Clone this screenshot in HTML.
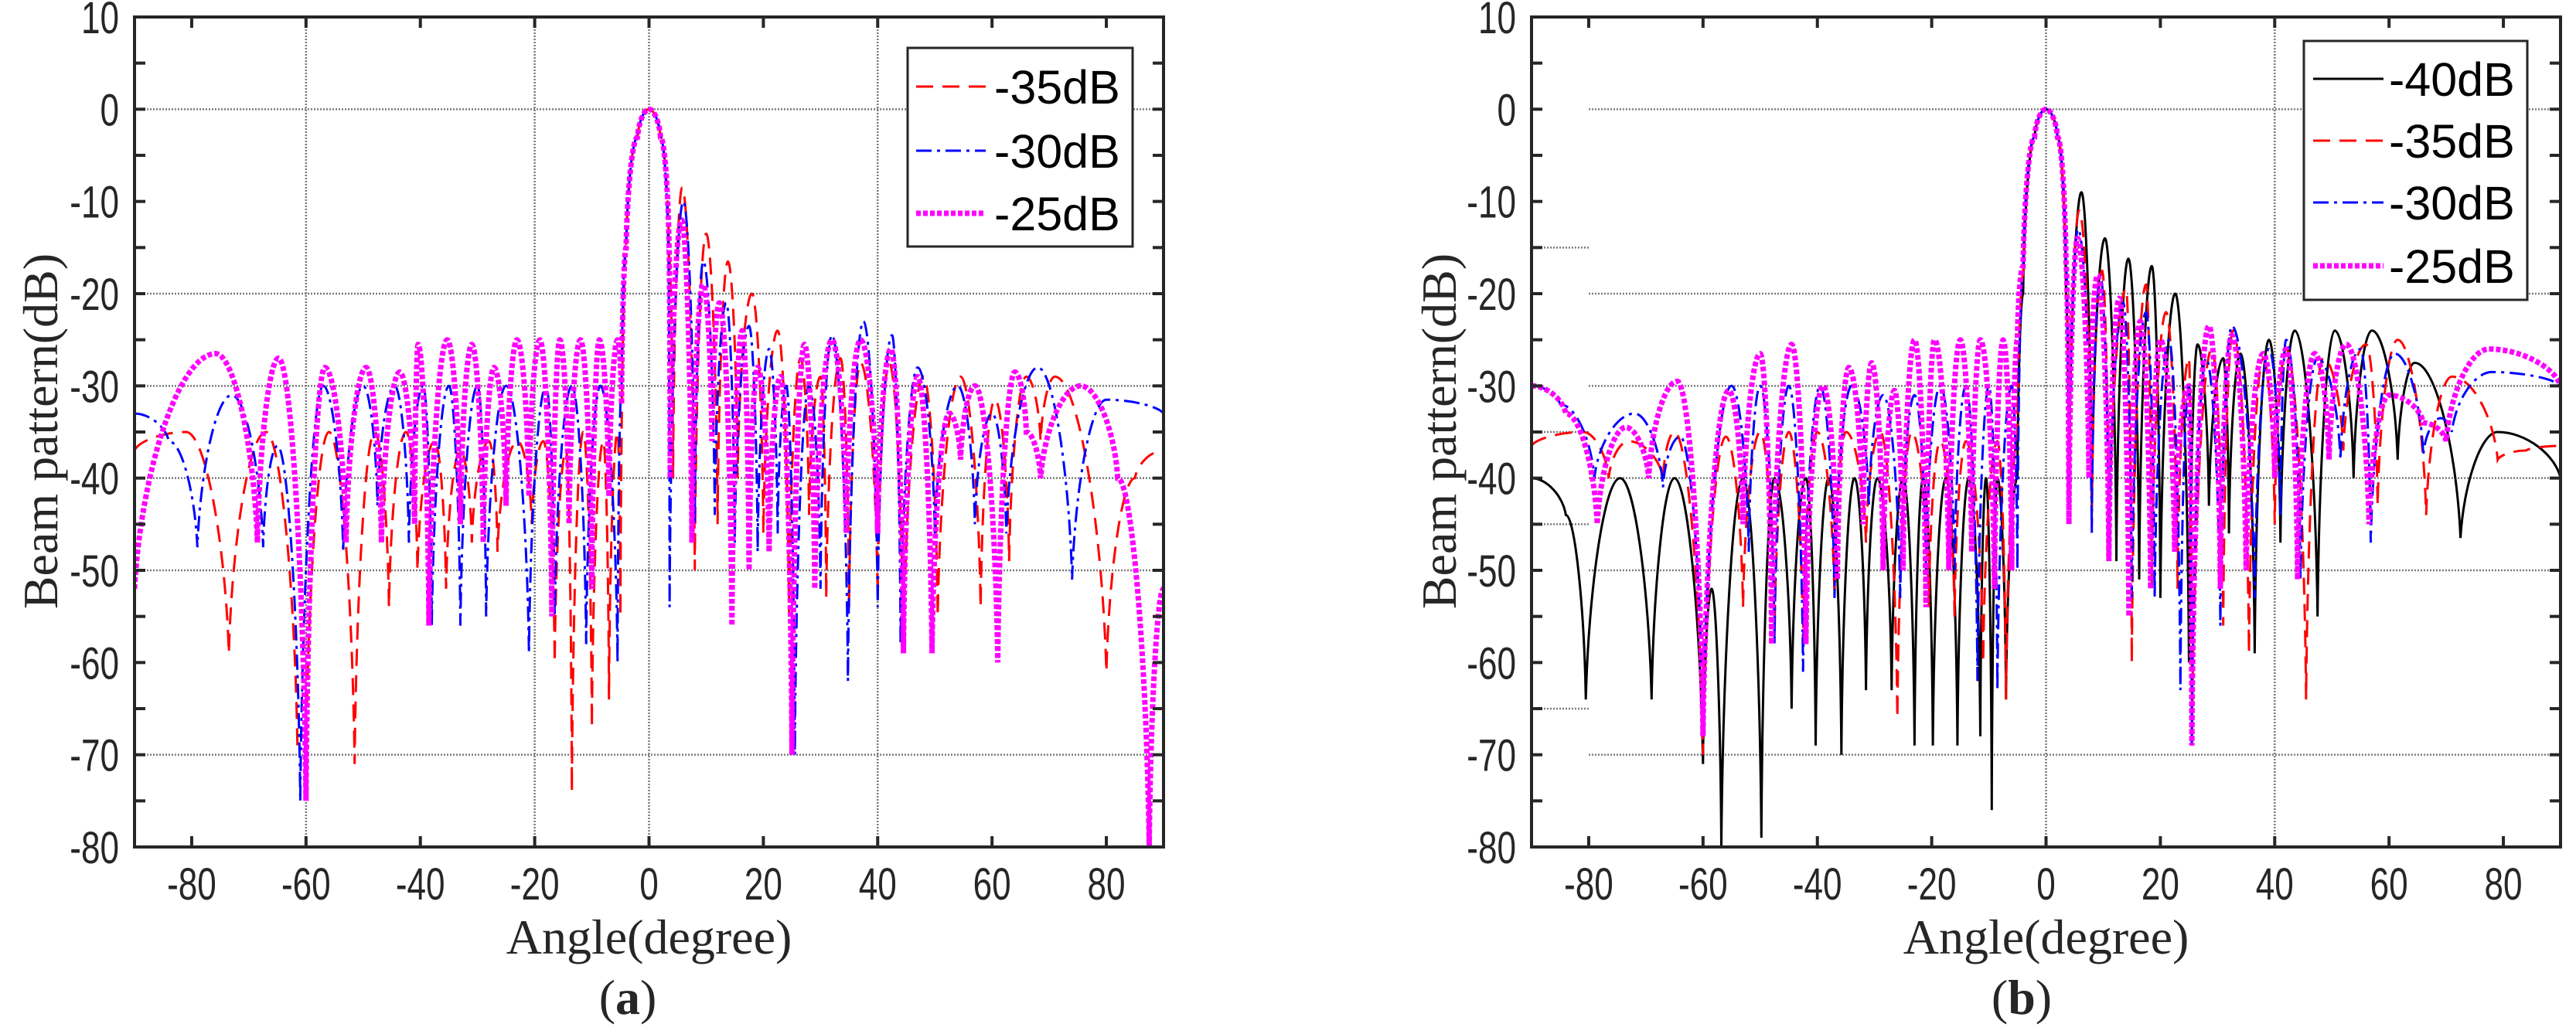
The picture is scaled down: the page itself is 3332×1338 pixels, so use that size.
<!DOCTYPE html>
<html><head><meta charset="utf-8">
<style>
html,body{margin:0;padding:0;background:#fff;}
svg{display:block;}
.tk{font-family:"Liberation Sans",sans-serif;font-size:58px;fill:#262626;}
.ttl{font-family:"Liberation Serif",serif;font-size:64px;fill:#262626;}
.lg{font-family:"Liberation Sans",sans-serif;font-size:61px;fill:#000;}
</style></head>
<body>
<svg id="fig" width="3332" height="1338" viewBox="0 0 3332 1338" xmlns="http://www.w3.org/2000/svg">
<g id="pa"></g>
<g id="pb"></g>
</svg>
<script>
// ---- data (angle in degrees, level in dB): peaks and nulls ----
const xTicks=[-80,-60,-40,-20,0,20,40,60,80];
const yTicks=[10,0,-10,-20,-30,-40,-50,-60,-70,-80];
const legendA=["-35dB","-30dB","-25dB"];
const legendB=["-40dB","-35dB","-30dB","-25dB"];

const a35Ang=[-90,-81,-73.5,-67,-61.5,-60,-56,-51.5,-48,-45.5,-42.5,-40.5,-37.5,-35.5,-33,-31,-28,-26.5,-23,-20.5,-18.5,-16.5,-14.5,-13.5,-11.5,-10,-8,-7,-5.5,-5,-4,-2,0,2,3.5,4.2,5.8,8,10,12,13.8,15.5,18,20,22.5,24.5,26.5,28,30,31,33.5,35,37,40,42,44.5,48,50.5,54.5,58,60.5,63,66,68.5,71,80,85,90];
const a35Db=[-37,-35,-59,-35,-69,-70,-35,-71,-35,-54,-35,-50,-36,-52,-37,-47,-36,-48,-36,-45,-36,-60,-37,-74,-35,-67,-36,-64,-35,-55,-15,-3,0,-3,-16,-40,-8.5,-50,-13.5,-45,-16.5,-40,-20,-46,-24,-55,-27,-44,-29,-53,-27,-54,-27.5,-53,-27.5,-59,-29,-55,-29,-54,-31.5,-49,-29,-36,-29,-61,-40,-37];

const a30Ang=[-90,-84,-79,-73,-67.5,-65,-61,-57,-53.5,-50,-47.5,-44.5,-42,-39.5,-38,-35,-33,-30,-28.5,-25,-21,-18,-16.5,-13.5,-11,-8.5,-5.5,-4.8,-4,-2,0,2,3.4,3.6,6,8,9.5,11.5,13.5,15,17.5,19,21,22.5,24,25.5,28,30,32,34.8,37.5,40,42.5,44,47,50,54,57,60,62.5,68,74,80,90];
const a30Db=[-33,-36,-47.5,-31,-47.5,-36.5,-75,-30,-48,-30,-43,-30,-47,-30,-56,-30,-56,-30,-55,-30,-59,-30,-55,-30,-58,-30,-60,-30,-15,-3,0,-3,-16,-54,-10,-45,-16.5,-44,-21,-47,-23.5,-48,-26,-46,-30,-70,-30,-52,-24.5,-62,-23,-54,-24.5,-58,-28,-46,-30,-45,-33,-46,-28,-51,-31.5,-33];

const a25Ang=[-90,-75.8,-68.5,-64.8,-60,-56.7,-53,-49.5,-46.8,-43.6,-41,-40.4,-38.5,-35.3,-33,-31,-29,-27.1,-25,-23.1,-21,-19.1,-17,-15.6,-14,-12,-10,-8.7,-7,-5.5,-4.8,-4,-2,0,2,3.5,3.7,5.7,7.5,9.5,11,12.3,14.5,16.3,17.5,19,21,23,25,27.2,29,32,34.5,37,40,42.3,44.5,47,49.5,52.5,54.5,57,61,64,66,68.5,75.5,82,87.5,90];
const a25Db=[-52,-26.5,-47,-27,-75,-28,-47,-28,-47,-28.5,-45,-25.5,-56,-25,-45,-25.5,-47,-28,-43,-25,-42,-25,-55,-25,-45,-25,-52,-25,-42,-25,-32,-15,-3,0,-3,-15,-40,-12,-47,-19,-36,-21,-56,-24,-50,-28,-48,-29,-70,-25.5,-52,-25,-46,-25,-46,-26,-59,-29,-59,-33,-38,-30,-60,-28.5,-35,-40,-30,-40,-80,-52];

const b40Ang=[-90,-84,-80.5,-74.5,-69,-65,-60,-58.5,-56.8,-53,-49.8,-47.5,-44.5,-42,-40.3,-38,-35.8,-33.5,-31.5,-29.5,-27,-25,-23,-21.5,-19.8,-17.5,-15.5,-13.5,-11.5,-10.5,-9.5,-8.5,-7,-5,-4,-2,0,2,3.5,4,6.2,8,10.3,12.3,14.4,16.3,18.5,20,22.6,25,26.5,28.5,31,32,34,36.5,39,41,43.5,47.5,50.5,53.8,57,61.5,64.5,72.5,79,90];
const b40Db=[-40,-44,-64,-40,-64,-40,-71,-52,-80,-40,-79,-40,-65,-40,-69,-40,-70,-40,-63,-40,-63,-40,-69,-40,-69,-40,-69,-40,-68,-40,-76,-40,-64,-40,-20,-3,0,-3,-20,-42,-9,-43,-14,-49,-16.2,-51,-17,-53,-20,-60,-25.5,-43,-27,-46,-26.5,-59,-25,-47,-24,-55,-24,-40,-24,-38,-27.5,-46.5,-35,-40];

const b35Ang=[-90,-81,-76.5,-73,-67,-65,-60,-56,-53,-50,-47.5,-45,-42.5,-40,-37,-35,-31.5,-29,-26,-23.5,-20.5,-18.5,-16,-14,-11,-8.5,-7,-5,-4,-2,0,2,3.5,4,5.8,8,9.8,11,14,15,17.5,18.5,21,23,25,25.5,29,31,32.7,35.5,38,40,42,45.5,48.5,52,56,58,61.5,66.5,71,79,84,90];
const b35Db=[-36.5,-35,-40,-36,-40,-35,-70,-35.5,-54,-35,-57,-35,-58,-35,-53,-35,-47,-35,-66,-35,-54,-36,-55,-36,-60,-36,-64,-36,-18,-3,0,-3,-18,-42,-11,-45,-17.5,-49,-19.5,-60,-19,-52,-22,-52,-27,-69,-26,-56,-24,-59,-27,-45,-26,-64,-27,-37,-25.5,-43,-25,-44,-29,-38,-37,-36.5];

const b30Ang=[-90,-85,-79,-72,-67,-64,-60,-55,-52,-50,-47.5,-45,-42.5,-39.5,-37,-34,-31,-28.5,-25.5,-23,-21,-18.5,-16,-14,-12,-10,-8.5,-6,-5,-4,-2,0,2,3.5,4,5.6,8,9.5,11,13.5,15,17.5,19,21.5,23.5,25,25.5,28,30.5,32.5,36.5,39,41,42,44.5,47.5,51.5,55,56.8,61,66,69,71,78,90];
const b30Db=[-30,-32,-40,-33,-41,-35.5,-67,-30,-48,-30,-58,-30,-61,-30,-53,-30,-43,-31,-53,-31,-50,-30,-50,-30,-62,-30,-63,-30,-50,-17,-3,0,-3,-17,-43,-13,-46,-18,-49,-21,-53,-22,-53,-25,-63,-30,-69,-27,-56,-23.5,-53,-26,-44,-25,-51,-27,-38,-26,-47,-26.5,-37.5,-33.5,-35,-28.5,-30];

const b25Ang=[-90,-84,-78.5,-73.5,-69.5,-64.5,-60,-55.5,-53,-50,-48,-44.5,-42,-39,-36.5,-34.5,-32,-30.5,-28.5,-26.5,-25,-23,-21,-19.5,-17,-15,-13,-11.5,-9,-7.5,-6,-5,-4,-2,0,2,3.5,4,5.5,7.5,9,11,12.8,14.5,16.5,18.3,20,22.5,25,25.5,28.5,30.5,32.5,35,38,40,42,44,47,49.5,52.5,56.5,60,66,70,77.5,90];
const b25Db=[-30,-33,-45,-34.5,-40,-29.5,-68,-30.5,-45,-26.5,-58,-25.5,-58,-30,-51,-28,-45,-27.5,-50,-30.5,-50,-25,-54,-25,-50,-25,-48,-25,-52,-25,-50,-25,-17,-3,0,-3,-17,-45,-14,-40,-18,-49,-20.5,-55,-23,-52,-25,-48,-30,-69,-23.5,-52,-24.5,-50,-26.5,-40,-26,-51,-26.5,-38,-25.5,-45,-31,-34,-36,-26,-30];

// ---- rendering ----
const NS="http://www.w3.org/2000/svg";
function mk(parent,tag,attrs){const e=document.createElementNS(NS,tag);for(const k in attrs)e.setAttribute(k,attrs[k]);parent.appendChild(e);return e;}

function makeAxes(x0,x1,y0,y1){
  return {x:a=>x0+(a+90)/180*(x1-x0), y:d=>y0+(10-d)/90*(y1-y0), x0,x1,y0,y1};
}
function pathFor(ax,angs,dbs){
  let d="M"+ax.x(angs[0]).toFixed(1)+","+ax.y(dbs[0]).toFixed(1);
  for(let i=1;i<angs.length;i++){
    const Ax=ax.x(angs[i-1]),Ay=ax.y(dbs[i-1]),Bx=ax.x(angs[i]),By=ax.y(dbs[i]);
    const dx=Bx-Ax;let c1x,c1y,c2x,c2y;
    if(Ay<By){c1x=Ax+0.45*dx;c1y=Ay;c2x=Bx-0.08*dx;c2y=Ay+0.5*(By-Ay);}
    else{c1x=Ax+0.08*dx;c1y=By+0.5*(Ay-By);c2x=Bx-0.45*dx;c2y=By;}
    d+=" C"+c1x.toFixed(1)+","+c1y.toFixed(1)+" "+c2x.toFixed(1)+","+c2y.toFixed(1)+" "+Bx.toFixed(1)+","+By.toFixed(1);
  }
  return d;
}
const styles={
  black:{stroke:"#000","stroke-width":3},
  red:{stroke:"#ff0000","stroke-width":3,"stroke-dasharray":"22 12"},
  blue:{stroke:"#0000ff","stroke-width":3,"stroke-dasharray":"20 7 4 7"},
  magenta:{stroke:"#ff00ff","stroke-width":7,"stroke-dasharray":"6 3"}
};

function drawPanel(g,ax,opts){
  const cid="clip"+opts.id;
  const cp=mk(mk(g,"defs",{}),"clipPath",{id:cid});
  mk(cp,"rect",{x:ax.x0,y:ax.y0,width:ax.x1-ax.x0,height:ax.y1-ax.y0});
  const grid=mk(g,"g",{});
  
  
  opts.hgrid.forEach(v=>{const l=mk(grid,"line",{x1:ax.x(opts.hgridStart),x2:ax.x1,y1:ax.y(v),y2:ax.y(v),stroke:"#7a7a7a","stroke-width":2.5,"stroke-dasharray":"2 2"});
    
    });
  (opts.hshort||[]).forEach(v=>{const l=mk(grid,"line",{x1:ax.x0,x2:ax.x(-80),y1:ax.y(v),y2:ax.y(v),stroke:"#7a7a7a","stroke-width":2.5,"stroke-dasharray":"2 2"});
    
    });
  opts.vgrid.forEach(v=>{const l=mk(grid,"line",{x1:ax.x(v),x2:ax.x(v),y1:ax.y0,y2:ax.y1,stroke:"#7a7a7a","stroke-width":2.5,"stroke-dasharray":"2 2"});
    
    });
  const sg=mk(g,"g",{"clip-path":"url(#"+cid+")"});
  opts.series.forEach(s=>{
    const p=mk(sg,"path",Object.assign({d:pathFor(ax,s.a,s.d),fill:"none"},styles[s.c]));
    
    
  });
  const fr=mk(g,"rect",{x:ax.x0,y:ax.y0,width:ax.x1-ax.x0,height:ax.y1-ax.y0,fill:"none",stroke:"#262626","stroke-width":4});
  
  
  const tg=mk(g,"g",{stroke:"#262626","stroke-width":4});
  
  
  for(let v=-80;v<=10;v+=5){
    mk(tg,"line",{x1:ax.x0,x2:ax.x0+14,y1:ax.y(v),y2:ax.y(v)});
    mk(tg,"line",{x1:ax.x1,x2:ax.x1-14,y1:ax.y(v),y2:ax.y(v)});
  }
  xTicks.forEach(v=>{
    mk(tg,"line",{x1:ax.x(v),x2:ax.x(v),y1:ax.y0,y2:ax.y0+14});
    mk(tg,"line",{x1:ax.x(v),x2:ax.x(v),y1:ax.y1,y2:ax.y1-14});
  });
  yTicks.forEach(v=>{
    const t=mk(g,"text",{x:0,y:0,"text-anchor":"end",class:"tk",transform:"translate("+(ax.x0-20)+","+(ax.y(v)+21)+") scale(0.76,1)"});t.textContent=String(v);
    
    
  });
  xTicks.forEach(v=>{
    const t=mk(g,"text",{x:0,y:0,"text-anchor":"middle",class:"tk",transform:"translate("+ax.x(v)+","+(ax.y1+68)+") scale(0.76,1)"});t.textContent=String(v);
    
    
  });
  const xt=mk(g,"text",{x:ax.x(0),y:1234,"text-anchor":"middle",class:"ttl"});xt.textContent="Angle(degree)";
  
  
  const yx=opts.ytitleX,yy=558;
  const yt=mk(g,"text",{x:yx,y:yy,"text-anchor":"middle",class:"ttl",transform:"rotate(-90 "+yx+" "+yy+")",dy:"22"});yt.textContent="Beam pattern(dB)";
  
  
  const pl=mk(g,"text",{x:opts.labelX,y:1312,"text-anchor":"middle",class:"ttl","font-size":"82"});
  pl.innerHTML='(<tspan font-weight="bold">'+opts.label+'</tspan>)';
  
  
  const L=opts.legend;
  const lg=mk(g,"g",{});
  
  
  mk(lg,"rect",{x:L.x,y:L.y,width:L.w,height:L.h,fill:"#fff",stroke:"#262626","stroke-width":3});
  L.items.forEach((it,i)=>{
    const ry=L.rows[i];
    const en=mk(lg,"g",{});
    
    
    mk(en,"line",Object.assign({x1:L.lx1,x2:L.lx2,y1:ry,y2:ry},styles[it.c]));
    const t=mk(en,"text",{x:L.tx,y:ry+22,class:"lg"});t.textContent=it.t;
  });
}

const axA=makeAxes(174,1505,22,1096);
drawPanel(document.getElementById("pa"),axA,{id:"a",label:"a",labelX:812,ytitleX:52,
  hgrid:[0,-20,-30,-40,-50,-70],hgridStart:-90,vgrid:[-60,-20,0,40],
  series:[{name:"minus35db",c:"red",a:a35Ang,d:a35Db},{name:"minus30db",c:"blue",a:a30Ang,d:a30Db},{name:"minus25db",c:"magenta",a:a25Ang,d:a25Db}],
  legend:{x:1174,y:62,w:291,h:257,rows:[112,195,276],lx1:1185,lx2:1275,tx:1286,
    items:[{c:"red",t:legendA[0]},{c:"blue",t:legendA[1]},{c:"magenta",t:legendA[2]}]}});

const axB=makeAxes(1981,3312,22,1096);
drawPanel(document.getElementById("pb"),axB,{id:"b",label:"b",labelX:2615,ytitleX:1861,
  hgrid:[0,-20,-30,-40,-50,-70],hgridStart:-80,hshort:[-15,-35,-45,-65],vgrid:[0,40],
  series:[{name:"minus40db",c:"black",a:b40Ang,d:b40Db},{name:"minus35db",c:"red",a:b35Ang,d:b35Db},{name:"minus30db",c:"blue",a:b30Ang,d:b30Db},{name:"minus25db",c:"magenta",a:b25Ang,d:b25Db}],
  legend:{x:2980,y:53,w:289,h:335,rows:[102,182,262,344],lx1:2992,lx2:3083,tx:3090,
    items:[{c:"black",t:legendB[0]},{c:"red",t:legendB[1]},{c:"blue",t:legendB[2]},{c:"magenta",t:legendB[3]}]}});
</script>
</body></html>
